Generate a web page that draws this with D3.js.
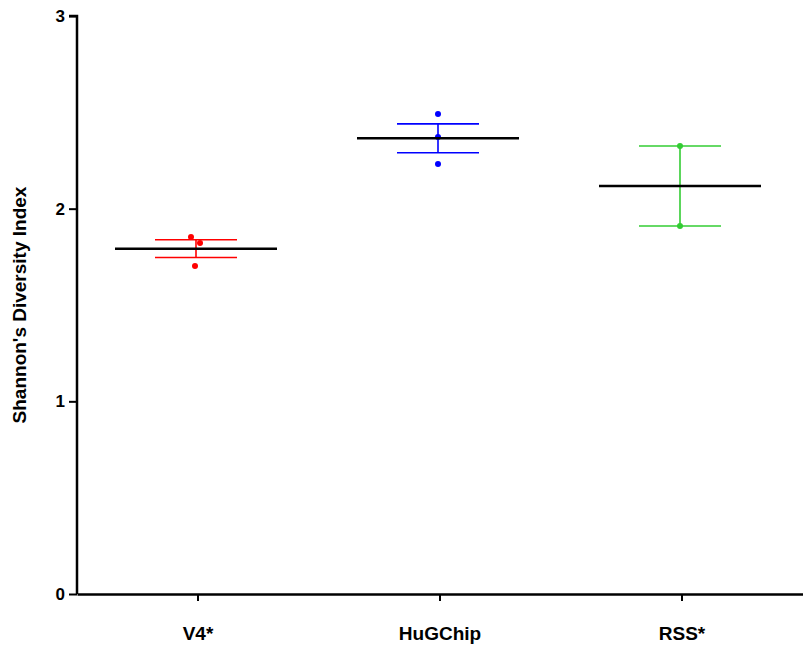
<!DOCTYPE html>
<html><head><meta charset="utf-8">
<script src="https://cdn.jsdelivr.net/npm/d3@7"></script>
<style>
html,body{margin:0;padding:0;background:#fff;}
text{font-family:"Liberation Sans",Arial,Helvetica,sans-serif;font-weight:bold;}
</style></head>
<body><svg id="chart" width="803" height="647"></svg>
<script>
const categories = ["V4*", "HuGChip", "RSS*"];
const v4Values = [1.853, 1.822, 1.702];
const hugchipValues = [2.491, 2.372, 2.232];
const rssValues = [2.325, 1.910];
const yTicks = [0, 1, 2, 3];
const colors = ["#ff0000", "#0000ff", "#33cc33"];
const yLabel = "Shannon's Diversity Index";

const groups = [v4Values, hugchipValues, rssValues];
const jitter = [[-5, 4, -1], [0, 0, 0], [0, 0]];

const svg = d3.select("#chart");
const margin = {left: 77, right: 0, top: 16, bottom: 53};
const W = 803, H = 647;
const x = d3.scaleBand().domain(categories).range([margin.left, W]).padding(0);
const y = d3.scaleLinear().domain([0, 3]).range([H - margin.bottom, margin.top]);

// y axis
const ya = svg.append("g").attr("transform", `translate(${margin.left},0)`)
  .call(d3.axisLeft(y).tickValues(yTicks).tickFormat(d3.format("d")).tickSize(8).tickPadding(4));
ya.select(".domain").attr("stroke", "#000").attr("stroke-width", 2.5).attr("d", `M-8,${y(3)}H0V${y(0)}`);
ya.selectAll(".tick line").attr("stroke-width", 2);
ya.selectAll(".tick text").attr("font-size", 17).attr("fill", "#000").attr("font-weight", "bold");

// x axis
const xa = svg.append("g").attr("transform", `translate(0,${y(0)})`)
  .call(d3.axisBottom(x).tickSize(7).tickPadding(26).tickSizeOuter(0));
xa.select(".domain").attr("stroke", "#000").attr("stroke-width", 2.5);
xa.selectAll(".tick line").attr("stroke-width", 2);
xa.selectAll(".tick text").attr("font-size", 19).attr("fill", "#000").attr("font-weight", "bold");

// y label
svg.append("text").attr("transform", `translate(26,${(y(0)+y(3))/2}) rotate(-90)`)
  .attr("text-anchor", "middle").attr("font-size", 19).text(yLabel);

groups.forEach((vals, i) => {
  const cx = x(categories[i]) + x.bandwidth() / 2 - 2;
  const m = d3.mean(vals);
  const sem = d3.deviation(vals) / Math.sqrt(vals.length);
  const g = svg.append("g");
  const c = colors[i];
  // error bar
  g.append("line").attr("x1", cx).attr("x2", cx).attr("y1", y(m + sem)).attr("y2", y(m - sem))
    .attr("stroke", c).attr("stroke-width", 1.6);
  [m + sem, m - sem].forEach(v => {
    g.append("line").attr("x1", cx - 41).attr("x2", cx + 41).attr("y1", y(v)).attr("y2", y(v))
      .attr("stroke", c).attr("stroke-width", 1.6);
  });
  // points
  vals.forEach((v, j) => {
    g.append("circle").attr("cx", cx + jitter[i][j]).attr("cy", y(v)).attr("r", 3).attr("fill", c);
  });
  // mean line
  g.append("line").attr("x1", cx - 81).attr("x2", cx + 81).attr("y1", y(m)).attr("y2", y(m))
    .attr("stroke", "#000").attr("stroke-width", 2.5);
});
</script></body></html>
